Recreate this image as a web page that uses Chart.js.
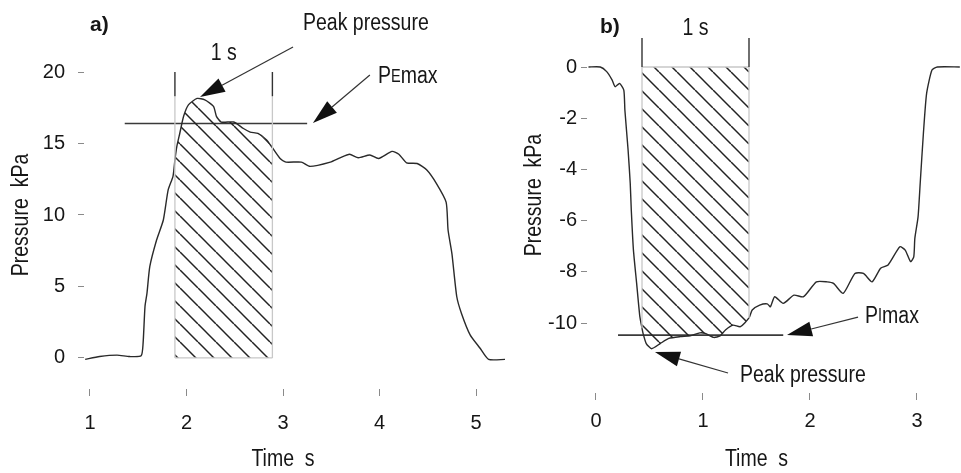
<!DOCTYPE html>
<html>
<head>
<meta charset="utf-8">
<script src="https://cdn.jsdelivr.net/npm/chart.js@4.4.1/dist/chart.umd.min.js"></script>
<style>
  html, body { margin: 0; padding: 0; background: #fff; }
  #wrap { position: relative; width: 961px; height: 473px; overflow: hidden; }
  canvas { position: absolute; top: 0; }
  #chartA { left: 0; }
  #chartB { left: 515px; }
</style>
</head>
<body>
<div id="wrap">
  <canvas id="chartA" width="515" height="473"></canvas>
  <canvas id="chartB" width="446" height="473"></canvas>
</div>
<script>
// a) expiratory effort, pressure in kPa against time in s
const timeA = [0.95, 1.10, 1.28, 1.41, 1.53, 1.55, 1.57, 1.59, 1.62, 1.69, 1.76, 1.81, 1.86, 1.88, 1.90, 1.93,
    1.97, 2.02, 2.11, 2.19, 2.28, 2.31, 2.36, 2.49, 2.59, 2.66, 2.74, 2.83, 2.89, 2.97, 3.03, 3.19, 3.28,
    3.49, 3.59, 3.69, 3.78, 3.90, 3.99, 4.13, 4.20, 4.28, 4.39, 4.49, 4.59, 4.69, 4.71, 4.75, 4.80, 4.85,
    4.94, 5.04, 5.13, 5.30]
const pressureA = [-0.1, 0.1, 0.2, 0.1, 0.15, 1.0, 3.6, 4.5, 6.4, 8.25, 9.65, 11.75, 12.7, 13.85, 14.8, 15.7,
    16.9, 17.7, 18.15, 18.05, 17.6, 16.9, 16.5, 16.5, 16.05, 15.8, 15.7, 15.25, 14.7, 13.95, 13.7, 13.7, 13.4,
    13.7, 14.0, 14.25, 14.0, 14.2, 13.95, 14.45, 14.25, 13.65, 13.6, 13.15, 12.2, 10.9, 8.95, 7.3, 4.3, 3.1,
    1.6, 0.7, -0.1, -0.1]
const windowA = [1.88, 2.89]          // the 1 s averaging window
const pemaxA = [16.4, 1.36, 3.25]     // level, from, to
const xTicksA = [1, 2, 3, 4, 5]
const yTicksA = [0, 5, 10, 15, 20]

// b) inspiratory effort
const timeB = [-0.07, 0.04, 0.10, 0.15, 0.18, 0.22, 0.26, 0.27, 0.30, 0.32, 0.33, 0.35, 0.38, 0.41, 0.43, 0.44,
    0.47, 0.52, 0.60, 0.68, 0.79, 0.88, 0.97, 1.02, 1.10, 1.16, 1.21, 1.28, 1.35, 1.43, 1.46, 1.53, 1.60,
    1.63, 1.67, 1.75, 1.85, 1.94, 2.06, 2.16, 2.22, 2.31, 2.42, 2.50, 2.58, 2.66, 2.73, 2.84, 2.89, 2.94,
    2.97, 2.98, 3.01, 3.03, 3.06, 3.09, 3.14, 3.19, 3.40]
const pressureB = [0, 0, -0.18, -0.5, -0.77, -0.64, -0.9, -1.68, -3.24, -4.54, -5.59, -7.15, -8.45, -9.75, -10.2, -10.4,
    -10.8, -11.0, -10.8, -10.6, -10.53, -10.5, -10.38, -10.4, -10.56, -10.5, -10.27, -10.08, -10.14, -9.8, -9.49, -9.3, -9.25,
    -9.36, -8.97, -9.23, -8.91, -8.97, -8.39, -8.39, -8.45, -8.84, -8.06, -8.06, -8.39, -7.86, -7.73, -7.02, -7.15, -7.6,
    -7.41, -6.69, -5.85, -4.54, -2.59, -1.03, -0.12, 0, 0]
const windowB = [0.43, 1.43]
const pimaxB = [-10.47, 0.206, 1.75]
const xTicksB = [0, 1, 2, 3]
const yTicksB = [0, -2, -4, -6, -8, -10]

const FONT = '"Liberation Sans", Arial, sans-serif'
const INK = '#161616'
const NARROW = 0.83   // squeeze for the condensed lettering

function hatchPattern() {
    const s = 18
    const c = document.createElement('canvas')
    c.width = s
    c.height = s
    const g = c.getContext('2d')
    g.strokeStyle = '#222'
    g.lineWidth = 1.5
    for (const o of [-s, 0, s]) {
        g.beginPath()
        g.moveTo(o, 0)
        g.lineTo(o + s, s)
        g.stroke()
    }
    return g.createPattern(c, 'repeat')
}

function points(ts, vs) {
    return ts.map((t, i) => ({ x: t, y: vs[i] }))
}

function arrow(ctx, x0, y0, x1, y1) {
    const a = Math.atan2(y1 - y0, x1 - x0)
    const len = 25, half = 7.5
    const bx = x1 - len * Math.cos(a), by = y1 - len * Math.sin(a)
    ctx.beginPath()
    ctx.moveTo(x0, y0)
    ctx.lineTo(bx, by)
    ctx.stroke()
    ctx.beginPath()
    ctx.moveTo(x1, y1)
    ctx.lineTo(bx + half * Math.sin(a), by - half * Math.cos(a))
    ctx.lineTo(bx - half * Math.sin(a), by + half * Math.cos(a))
    ctx.closePath()
    ctx.fill()
}

// condensed text: draws str with its anchor at (0,0) of the current transform
function narrowText(ctx, str, size, align) {
    ctx.save()
    ctx.scale(NARROW, 1)
    ctx.font = size + 'px ' + FONT
    ctx.textAlign = align
    ctx.fillText(str, 0, 0)
    const w = ctx.measureText(str).width * NARROW
    ctx.restore()
    return w
}

// text made of pieces, e.g. P + small capital E + max
function pieces(ctx, parts, x, y) {
    for (const p of parts) {
        ctx.save()
        ctx.translate(x, y)
        x += narrowText(ctx, p.text, p.small ? 17.5 : 23.5, 'left')
        ctx.restore()
    }
}

// window bracket, arrows, labels and axis titles
const annotate = {
    id: 'annotate',
    afterDatasetsDraw(chart, args, o) {
        const { ctx, scales: { x, y } } = chart
        const px = v => x.getPixelForValue(v)
        const py = v => y.getPixelForValue(v)
        const [w0, w1] = o.window
        ctx.save()
        ctx.lineCap = 'butt'
        // window outline
        ctx.strokeStyle = '#c8c8c8'
        ctx.lineWidth = 1.3
        ctx.beginPath()
        ctx.moveTo(px(w0), py(0)); ctx.lineTo(px(w0), py(o.edgeEnds[0]))
        ctx.moveTo(px(w1), py(0)); ctx.lineTo(px(w1), py(o.edgeEnds[1]))
        ctx.moveTo(px(w0), py(0)); ctx.lineTo(px(w1), py(0))
        ctx.stroke()
        // bracket ticks
        ctx.strokeStyle = '#333'
        ctx.lineWidth = 1.4
        ctx.beginPath()
        for (const w of o.window) {
            ctx.moveTo(px(w), py(o.bracket[0]))
            ctx.lineTo(px(w), py(o.bracket[1]))
        }
        ctx.stroke()
        ctx.fillStyle = INK
        ctx.textBaseline = 'middle'
        ctx.save()
        ctx.translate((px(w0) + px(w1)) / 2, py(o.spanLabel))
        narrowText(ctx, '1 s', 23.5, 'center')
        ctx.restore()
        // arrows
        ctx.strokeStyle = '#333'
        ctx.fillStyle = '#111'
        ctx.lineWidth = 1.2
        for (const a of o.arrows) arrow(ctx, px(a[0]), py(a[1]), px(a[2]), py(a[3]))
        // labels
        ctx.fillStyle = INK
        for (const l of o.labels) pieces(ctx, l.parts, px(l.at[0]), py(l.at[1]))
        ctx.textAlign = 'left'
        ctx.font = 'bold 21px ' + FONT
        ctx.fillText(o.panel, px(o.panelAt[0]), py(o.panelAt[1]))
        // axis titles, centred over the tick range
        const xt = o.xTicks, yt = o.yTicks
        ctx.save()
        ctx.translate((px(xt[0]) + px(xt[xt.length - 1])) / 2, o.xTitleY)
        narrowText(ctx, 'Time  s', 23.5, 'center')
        ctx.restore()
        ctx.translate(o.yTitleX, (py(yt[0]) + py(yt[yt.length - 1])) / 2)
        ctx.rotate(-Math.PI / 2)
        narrowText(ctx, 'Pressure  kPa', 23.5, 'center')
        ctx.restore()
    }
}

function makeChart(id, d) {
    const curve = points(d.time, d.pressure)
    const inWindow = curve.filter(p => p.x >= d.window[0] && p.x <= d.window[1])
    const level = [{ x: d.level[1], y: d.level[0] }, { x: d.level[2], y: d.level[0] }]
    const tickFont = { family: FONT, size: 20 }
    return new Chart(document.getElementById(id), {
        type: 'line',
        data: {
            datasets: [
                { data: inWindow, fill: 'origin', backgroundColor: hatchPattern(), borderWidth: 0, pointRadius: 0 },
                { data: curve, borderColor: '#2a2a2a', borderWidth: 1.4, tension: 0.2, fill: false, pointRadius: 0 },
                { data: level, borderColor: '#3a3a3a', borderWidth: 1.6, fill: false, pointRadius: 0 }
            ]
        },
        options: {
            animation: false,
            responsive: false,
            devicePixelRatio: 1,
            layout: { padding: d.padding },
            plugins: {
                legend: { display: false },
                tooltip: { enabled: false },
                annotate: d.notes
            },
            scales: {
                x: {
                    type: 'linear',
                    min: d.xRange[0],
                    max: d.xRange[1],
                    afterBuildTicks: ax => { ax.ticks = d.xTicks.map(v => ({ value: v })) },
                    afterFit: ax => { ax.height = d.xHeight },
                    border: { display: false },
                    grid: { drawOnChartArea: false, tickLength: 7, color: '#8a8a8a' },
                    ticks: { font: tickFont, color: INK, padding: d.xPad, maxRotation: 0, callback: v => String(v) }
                },
                y: {
                    type: 'linear',
                    min: d.yRange[0],
                    max: d.yRange[1],
                    afterBuildTicks: ax => { ax.ticks = d.yTicks.map(v => ({ value: v })) },
                    afterFit: ax => { ax.width = d.yWidth },
                    border: { display: false },
                    grid: { drawOnChartArea: false, tickLength: 6, color: '#8a8a8a' },
                    ticks: { font: tickFont, color: INK, padding: d.yPad, callback: v => String(v) }
                }
            }
        },
        plugins: [annotate]
    })
}

makeChart('chartA', {
    time: timeA, pressure: pressureA, window: windowA, level: pemaxA,
    xTicks: xTicksA, yTicks: yTicksA,
    xRange: [0.938, 5.30], yRange: [-2.17, 20],
    padding: { top: 72, right: 10, left: 0, bottom: 0 },
    xHeight: 84, yWidth: 84, xPad: 15, yPad: 13,
    notes: {
        window: windowA, edgeEnds: [18.3, 18.3], bracket: [20, 18.3], spanLabel: 21.3,
        xTicks: xTicksA, yTicks: yTicksA, xTitleY: 460, yTitleX: 22,
        panel: 'a)', panelAt: [1.0, 23.29],
        arrows: [[3.104, 21.75, 2.14, 18.25], [3.90, 19.79, 3.31, 16.43]],
        labels: [
            { parts: [{ text: 'Peak pressure' }], at: [3.207, 23.36] },
            { parts: [{ text: 'P' }, { text: 'E', small: true }, { text: 'max' }], at: [3.984, 19.65] }
        ]
    }
})

makeChart('chartB', {
    time: timeB, pressure: pressureB, window: windowB, level: pimaxB,
    xTicks: xTicksB, yTicks: yTicksB,
    xRange: [-0.084, 3.402], yRange: [-12.73, 0.3],
    padding: { top: 59.32, right: 1, left: 0, bottom: 0 },
    xHeight: 80, yWidth: 72, xPad: 9, yPad: 4,
    notes: {
        window: windowB, edgeEnds: [-10.2, -9.8], bracket: [1.13, 0], spanLabel: 1.52,
        xTicks: xTicksB, yTicks: yTicksB, xTitleY: 460, yTitleX: 20,
        panel: 'b)', panelAt: [0.037, 1.56],
        arrows: [[2.449, -9.77, 1.785, -10.47], [1.234, -11.95, 0.551, -11.13]],
        labels: [
            { parts: [{ text: 'P' }, { text: 'I', small: true }, { text: 'max' }], at: [2.514, -9.73] },
            { parts: [{ text: 'Peak pressure' }], at: [1.346, -12.03] }
        ]
    }
})
</script>
</body>
</html>
